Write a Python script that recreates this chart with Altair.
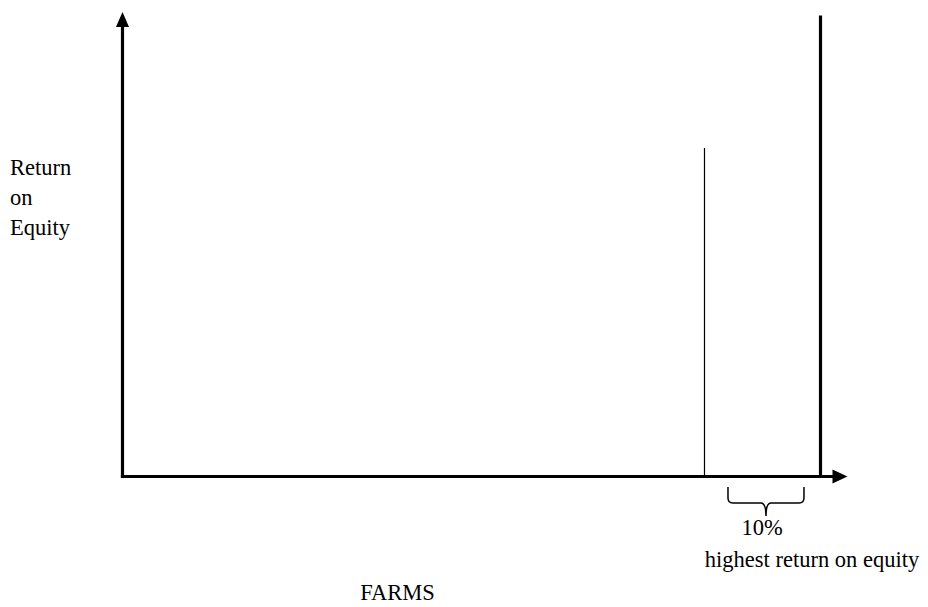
import altair as alt
import pandas as pd

# Schematic coordinates: x = farms ranked by return (0 = origin, 100 = last farm),
# y = return on equity index (0 = x axis, 100 = top of the bounding line)
X_DOMAIN = [-16.404, 114.255]
Y_DOMAIN = [-28.40, 101.96]

# thick lines: y axis, x axis, right-hand bound
thick_x1 = [0, 0, 100]
thick_x2 = [0, 102.1, 100]
thick_y1 = [0, 0, 0]
thick_y2 = [98.0, 0, 100]

# thin cutoff line of the top 10 %
cut_x = [83.38]
cut_y1 = [0]
cut_y2 = [71.49]

# arrow heads
arrow_kind = ["up", "right"]
arrow_x = [0, 102.79]
arrow_y = [99.46, 0]

# brace under the top decile
brace_x = [92.19]
brace_y = [-5.11]

# left-aligned y title lines
ytitle_text = ["Return", "on", "Equity"]
ytitle_x = [-16.12, -16.12, -16.12]
ytitle_y = [65.61, 59.09, 52.56]

# centred labels
label_text = ["10%", "highest return on equity", "FARMS"]
label_x = [91.62, 98.78, 39.40]
label_y = [-12.73, -19.70, -26.88]

xs = alt.Scale(domain=X_DOMAIN, nice=False, zero=False)
ys = alt.Scale(domain=Y_DOMAIN, nice=False, zero=False)

thick = alt.Chart(pd.DataFrame({"x": thick_x1, "x2": thick_x2, "y": thick_y1, "y2": thick_y2})).mark_rule(
    color="black", strokeWidth=3.2, strokeCap="square"
).encode(
    x=alt.X("x:Q", scale=xs, axis=None), x2="x2:Q",
    y=alt.Y("y:Q", scale=ys, axis=None), y2="y2:Q",
)

thin = alt.Chart(pd.DataFrame({"x": cut_x, "y": cut_y1, "y2": cut_y2})).mark_rule(
    color="black", strokeWidth=1.2
).encode(
    x=alt.X("x:Q", scale=xs, axis=None),
    y=alt.Y("y:Q", scale=ys, axis=None), y2="y2:Q",
)

arrows = alt.Chart(pd.DataFrame({"kind": arrow_kind, "x": arrow_x, "y": arrow_y})).mark_point(
    filled=True, color="black", opacity=1, size=225
).encode(
    x=alt.X("x:Q", scale=xs, axis=None),
    y=alt.Y("y:Q", scale=ys, axis=None),
    shape=alt.Shape("kind:N", legend=None, scale=alt.Scale(
        domain=["up", "right"],
        range=["M0,-1L0.87,1L-0.87,1Z", "M1,0L-1,0.93L-1,-0.93Z"],
    )),
)

brace = alt.Chart(pd.DataFrame({"x": brace_x, "y": brace_y})).mark_point(
    filled=False, color="black", opacity=1, strokeWidth=1.5, size=5776,
    shape="M-1,-0.34L-1,-0.05Q-1,0.08 -0.87,0.08L-0.13,0.08Q0,0.08 0,0.42Q0,0.08 0.13,0.08L0.87,0.08Q1,0.08 1,-0.05L1,-0.34",
).encode(
    x=alt.X("x:Q", scale=xs, axis=None),
    y=alt.Y("y:Q", scale=ys, axis=None),
)

ytitle = alt.Chart(pd.DataFrame({"t": ytitle_text, "x": ytitle_x, "y": ytitle_y})).mark_text(
    align="left", baseline="alphabetic", font="Liberation Serif", fontSize=22.5, color="black"
).encode(
    x=alt.X("x:Q", scale=xs, axis=None),
    y=alt.Y("y:Q", scale=ys, axis=None),
    text="t:N",
)

labels = alt.Chart(pd.DataFrame({"t": label_text, "x": label_x, "y": label_y})).mark_text(
    align="center", baseline="alphabetic", font="Liberation Serif", fontSize=22.5, color="black"
).encode(
    x=alt.X("x:Q", scale=xs, axis=None),
    y=alt.Y("y:Q", scale=ys, axis=None),
    text="t:N",
)

chart = alt.layer(thick, thin, arrows, brace, ytitle, labels).properties(
    width=912, height=599, padding=0, autosize=alt.AutoSizeParams(type="none"),
    background="white",
).configure_view(stroke=None)

chart.save("out.html", embed_options={"renderer": "svg", "actions": False})
